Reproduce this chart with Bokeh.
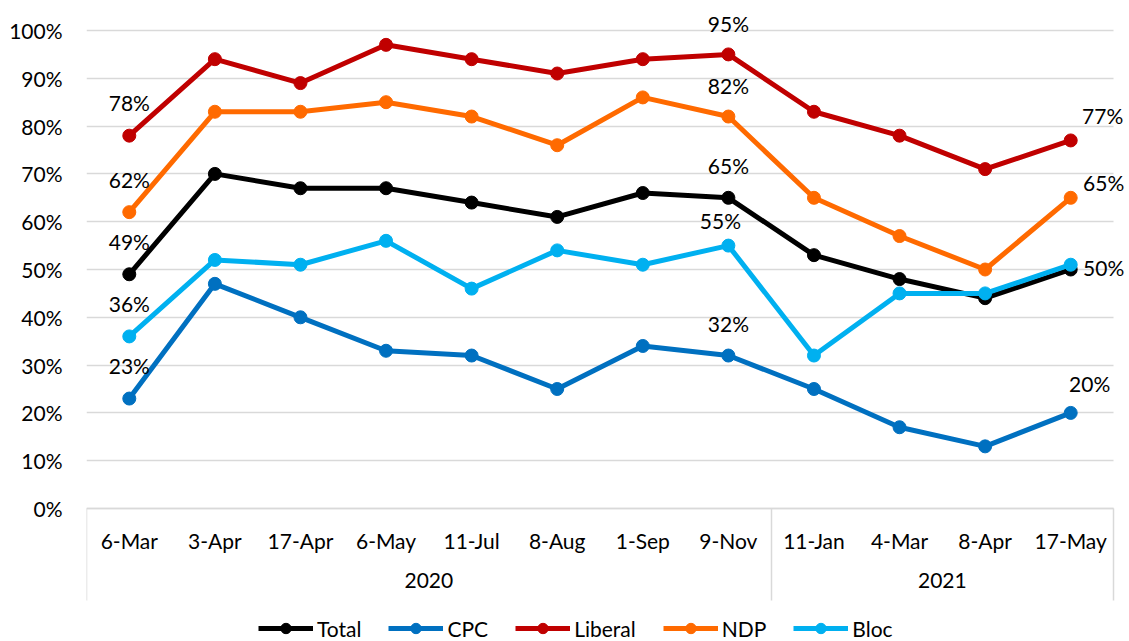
from bokeh.plotting import figure
from bokeh.models import (ColumnDataSource, FixedTicker, LinearAxis, Legend,
                          LegendItem, Range1d)
from bokeh.core.properties import value
from bokeh.embed import file_html
from bokeh.resources import INLINE

# ---------------- data ----------------
dates = ["6-Mar", "3-Apr", "17-Apr", "6-May", "11-Jul", "8-Aug", "1-Sep",
         "9-Nov", "11-Jan", "4-Mar", "8-Apr", "17-May"]
years = ["2020", "2021"]
year_counts = [8, 4]

total = [49, 70, 67, 67, 64, 61, 66, 65, 53, 48, 44, 50]
cpc = [23, 47, 40, 33, 32, 25, 34, 32, 25, 17, 13, 20]
liberal = [78, 94, 89, 97, 94, 91, 94, 95, 83, 78, 71, 77]
ndp = [62, 83, 83, 85, 82, 76, 86, 82, 65, 57, 50, 65]
bloc = [36, 52, 51, 56, 46, 54, 51, 55, 32, 45, 45, 51]

series_names = ["Total", "CPC", "Liberal", "NDP", "Bloc"]
series_values = [total, cpc, liberal, ndp, bloc]
y_ticks = [0, 10, 20, 30, 40, 50, 60, 70, 80, 90, 100]

# which points carry a data label
labelled_points = {
    "Total": [0, 7, 11],
    "CPC": [0, 7, 11],
    "Liberal": [0, 7, 11],
    "NDP": [0, 7, 11],
    "Bloc": [0, 7],
}

# ---------------- styles ----------------
colors = {"Total": "#000000", "CPC": "#0070C0", "Liberal": "#C00000",
          "NDP": "#FF6A00", "Bloc": "#00B0F0"}
FONT = "Lato"
FS = "21px"
GRID = "#D9D9D9"
# label offsets in screen pixels (dx, dy), dy negative = up
label_offsets = {
    ("Liberal", 0): (0, -33), ("NDP", 0): (0, -33), ("Total", 0): (0, -33),
    ("Bloc", 0): (0, -33), ("CPC", 0): (0, -33),
    ("Liberal", 7): (0, -31), ("NDP", 7): (0, -31), ("Total", 7): (0, -32),
    ("Bloc", 7): (-8, -25), ("CPC", 7): (0, -32),
    ("Liberal", 11): (32, -25), ("NDP", 11): (33, -15), ("Total", 11): (33, -2),
    ("CPC", 11): (19, -29),
}

n = len(dates)
xs = list(range(n))
px_per_unit = 1027 / n
px_per_pct = 4.78
frame_w = 1040
top_px = 498      # frame pixels above the 0% line
bottom_px = 133   # frame pixels below the 0% line (category axes + legend)
frame_h = top_px + bottom_px

p = figure(frame_width=frame_w, frame_height=frame_h,
           x_range=Range1d(-0.5, -0.5 + frame_w / px_per_unit),
           y_range=Range1d(-bottom_px / px_per_pct, top_px / px_per_pct),
           output_backend="svg", toolbar_location=None,
           min_border_left=86, min_border_right=0, min_border_top=10,
           min_border_bottom=0)
p.outline_line_color = None
p.background_fill_color = "white"
p.border_fill_color = "white"

# y axis
p.yaxis.ticker = FixedTicker(ticks=y_ticks)
p.yaxis.major_label_overrides = {t: f"{t}%" for t in y_ticks}
p.yaxis.axis_line_color = None
p.yaxis.major_tick_line_color = None
p.yaxis.minor_tick_line_color = None
p.yaxis.major_label_standoff = 18
p.yaxis.major_label_text_font = FONT
p.yaxis.major_label_text_font_size = FS
p.yaxis.major_label_text_color = "#000000"

p.ygrid.ticker = FixedTicker(ticks=y_ticks)
p.ygrid.grid_line_color = GRID
p.ygrid.grid_line_width = 1.5
p.ygrid.cross_bounds = (-0.5, n - 0.5)
p.xgrid.visible = False

# group boundaries
bounds_pos = [-0.5]
centers = []
start = 0
for c in year_counts:
    centers.append(start + (c - 1) / 2)
    start += c
    bounds_pos.append(start - 0.5)

# category axis, pinned at 0%
xa = p.xaxis[0]
xa.fixed_location = 0
xa.ticker = FixedTicker(ticks=xs)
xa.major_label_overrides = {i: d for i, d in enumerate(dates)}
xa.bounds = (-0.5, n - 0.5)
xa.axis_line_color = GRID
xa.axis_line_width = 1.5
xa.major_tick_line_color = None
xa.minor_tick_line_color = None
xa.major_tick_out = 0
xa.major_tick_in = 0
xa.minor_tick_out = 0
xa.minor_tick_in = 0
xa.major_label_standoff = 19
xa.major_label_text_font = FONT
xa.major_label_text_font_size = FS
xa.major_label_text_color = "#000000"

# year axis, pinned at 0%, labels further down
ya = LinearAxis(ticker=FixedTicker(ticks=centers), fixed_location=0,
                major_label_overrides={c: y for c, y in zip(centers, years)})
ya.axis_line_color = None
ya.major_tick_line_color = None
ya.minor_tick_line_color = None
ya.major_tick_out = 0
ya.major_tick_in = 0
ya.minor_tick_out = 0
ya.minor_tick_in = 0
ya.major_label_standoff = 64
ya.major_label_text_font = FONT
ya.major_label_text_font_size = FS
ya.major_label_text_color = "#000000"
p.add_layout(ya, "below")

# group separators: minor ticks hanging below the 0% line
sa = LinearAxis(ticker=FixedTicker(ticks=[], minor_ticks=bounds_pos),
                fixed_location=0, bounds=(-0.5, n - 0.5))
sa.axis_line_color = None
sa.major_tick_line_color = None
sa.major_label_text_font_size = "0px"
sa.minor_tick_line_color = GRID
sa.minor_tick_line_width = 1.5
sa.minor_tick_in = 0
sa.minor_tick_out = 92
p.add_layout(sa, "below")

# series
items = []
for name, vals in zip(series_names, series_values):
    col = colors[name]
    lr = p.line(xs, vals, line_width=5, line_color=col, line_join="round")
    sr = p.scatter(xs, vals, size=13, fill_color=col, line_color=col)
    items.append(LegendItem(label=name, renderers=[lr, sr]))

# labels
lx, ly, lt, ldx, ldy = [], [], [], [], []
for name, vals in zip(series_names, series_values):
    for i in labelled_points[name]:
        dx, dy = label_offsets[(name, i)]
        lx.append(i)
        ly.append(vals[i])
        lt.append(f"{vals[i]}%")
        ldx.append(dx)
        ldy.append(dy)
src = ColumnDataSource(dict(x=lx, y=ly, text=lt, dx=ldx, dy=ldy))
p.text(x="x", y="y", text="text", x_offset="dx", y_offset="dy", source=src,
       text_align="center", text_baseline="middle", text_font=value(FONT),
       text_font_size=FS, text_color="#000000")

# legend at the bottom of the frame
legend = Legend(items=items, orientation="horizontal", location=(172, 0),
                glyph_width=55, glyph_height=26, label_standoff=4, spacing=27,
                padding=0, margin=0, border_line_color=None,
                background_fill_alpha=0, label_text_font=FONT,
                label_text_font_size=FS, label_text_color="#000000")
p.add_layout(legend)

open("out.html", "w").write(file_html(p, INLINE))
